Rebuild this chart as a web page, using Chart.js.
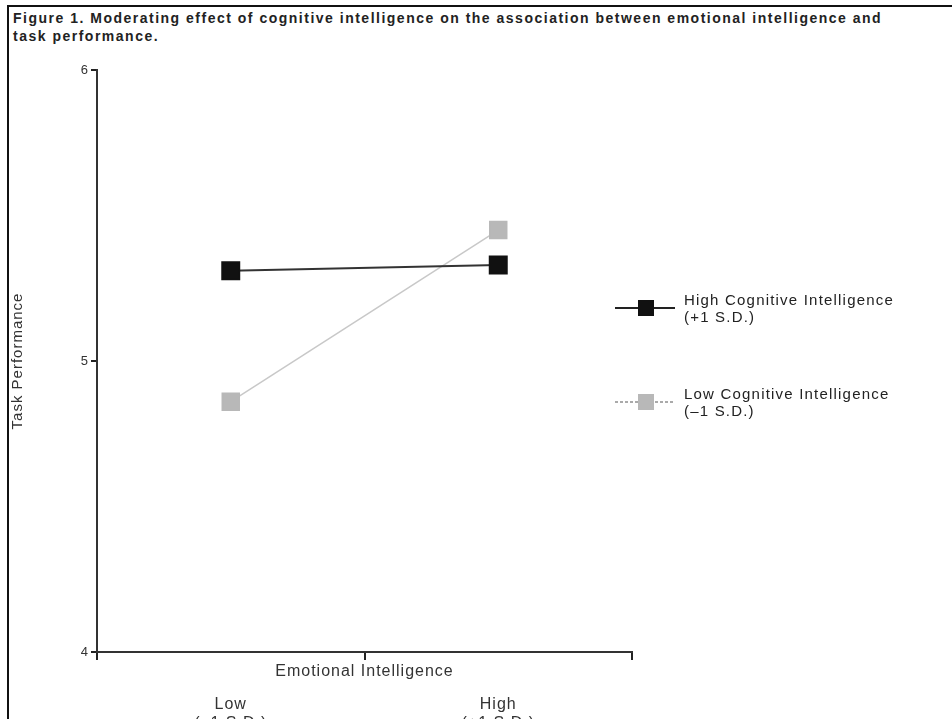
<!DOCTYPE html>
<html>
<head>
<meta charset="utf-8">
<script src="https://cdn.jsdelivr.net/npm/chart.js@4/dist/chart.umd.min.js"></script>
<style>
body { margin:0; background:#fff; }
#wrap { position:relative; width:952px; height:719px; overflow:hidden; }
#frame { position:absolute; left:7px; top:5px; width:960px; height:740px; border-top:2px solid #111; border-left:2px solid #111; }
#title { position:absolute; left:13px; top:9px; font:bold 14px "Liberation Sans", Arial, sans-serif; letter-spacing:1.5px; line-height:18px; color:#222; white-space:nowrap; }
canvas { position:absolute; left:0; top:0; }
</style>
</head>
<body>
<div id="wrap">
<div id="frame"></div>
<div id="title">Figure 1. Moderating effect of cognitive intelligence on the association between emotional intelligence and<br>task performance.</div>
<canvas id="Chart1" width="952" height="719"></canvas>
</div>
<script>
// data
var levelNames = [["Low","(–1 S.D.)"],["High","(+1 S.D.)"]];
var levelX = [0.5, 1.5];
var highCI = [5.31, 5.33];
var lowCI = [4.86, 5.45];
var seriesNames = ["High Cognitive Intelligence","Low Cognitive Intelligence"];
var seriesSub = ["(+1 S.D.)","(–1 S.D.)"];
var yTicks = [4, 5, 6];

function pts(ys){
    var out=[];
    for(var i=0;i<ys.length;i++){ out.push({x:levelX[i], y:ys[i]}); }
    return out;
}

var FONT = '"Liberation Sans", Arial, sans-serif';

// the scanned figure has loosely spaced type
var spacing = {
    id:'spacing',
    beforeDraw:function(chart){ chart.ctx.letterSpacing='1px'; }
};

// legend drawn at the right of the plot, two text lines per entry
var sideLegend = {
    id:'sideLegend',
    afterDraw:function(chart){
        var ctx=chart.ctx, a=chart.chartArea;
        var rows=[308,402];
        chart.data.datasets.forEach(function(ds,i){
            var y=rows[i], x0=a.right-17, x1=a.right+43;
            ctx.save();
            ctx.strokeStyle=ds.legendLine;
            ctx.lineWidth=2;
            if(ds.legendDash) ctx.setLineDash(ds.legendDash);
            ctx.beginPath(); ctx.moveTo(x0,y); ctx.lineTo(x1,y); ctx.stroke();
            ctx.setLineDash([]);
            ctx.fillStyle=ds.pointBackgroundColor;
            ctx.fillRect(x0+23,y-8,16,16);
            ctx.fillStyle='#222';
            ctx.font='15px '+FONT;
            ctx.letterSpacing='1.2px';
            ctx.textBaseline='middle';
            ctx.fillText(ds.label,x1+9,y-7);
            ctx.fillText(ds.sub,x1+9,y+10);
            ctx.restore();
        });
    }
};

var chart = new Chart(document.getElementById('Chart1').getContext('2d'), {
    type:'line',
    data:{
        datasets:[{
            label:seriesNames[0],
            sub:seriesSub[0],
            data:pts(highCI),
            borderColor:'#333',
            borderWidth:2,
            pointStyle:'rect',
            pointRadius:12,
            pointBackgroundColor:'#111',
            pointBorderColor:'#111',
            legendLine:'#222'
        },{
            label:seriesNames[1],
            sub:seriesSub[1],
            data:pts(lowCI),
            borderColor:'#c8c8c8',
            borderWidth:1.5,
            pointStyle:'rect',
            pointRadius:12,
            pointBackgroundColor:'#b8b8b8',
            pointBorderColor:'#b8b8b8',
            legendLine:'#aaa',
            legendDash:[3,2]
        }]
    },
    options:{
        responsive:false,
        animation:false,
        layout:{padding:{left:8,top:70,right:320,bottom:0}},
        plugins:{legend:{display:false},tooltip:{enabled:false}},
        scales:{
            x:{
                type:'linear', position:'bottom', weight:0,
                min:0, max:2,
                afterBuildTicks:function(s){ s.ticks=[{value:0},{value:1},{value:2}]; },
                ticks:{callback:function(){return '';}},
                grid:{drawOnChartArea:false, tickLength:8, color:'#222', lineWidth:2},
                border:{color:'#333', width:2},
                title:{display:true, text:'Emotional Intelligence', color:'#333', font:{family:FONT,size:16}},
                afterFit:function(s){ s.height=33; }
            },
            cat:{
                type:'linear', position:'bottom', weight:1,
                min:0, max:2,
                afterBuildTicks:function(s){ s.ticks=levelX.map(function(v){return {value:v};}); },
                ticks:{color:'#333', padding:10, font:{family:FONT,size:16},
                    callback:function(v,i){ return levelNames[i]; }},
                grid:{display:false, drawTicks:false},
                border:{display:false},
                afterFit:function(s){ s.height=34; }
            },
            y:{
                min:4, max:6,
                afterBuildTicks:function(s){ s.ticks=yTicks.map(function(v){return {value:v};}); },
                ticks:{color:'#333', padding:2, font:{family:FONT,size:13}},
                grid:{drawOnChartArea:false, tickLength:6, color:'#222', lineWidth:2},
                border:{color:'#333', width:2},
                title:{display:true, text:'Task Performance', color:'#333', padding:{top:1,bottom:1}, font:{family:FONT,size:15}},
                afterFit:function(s){ s.width=89; }
            }
        }
    },
    plugins:[spacing, sideLegend]
});
</script>
</body>
</html>
